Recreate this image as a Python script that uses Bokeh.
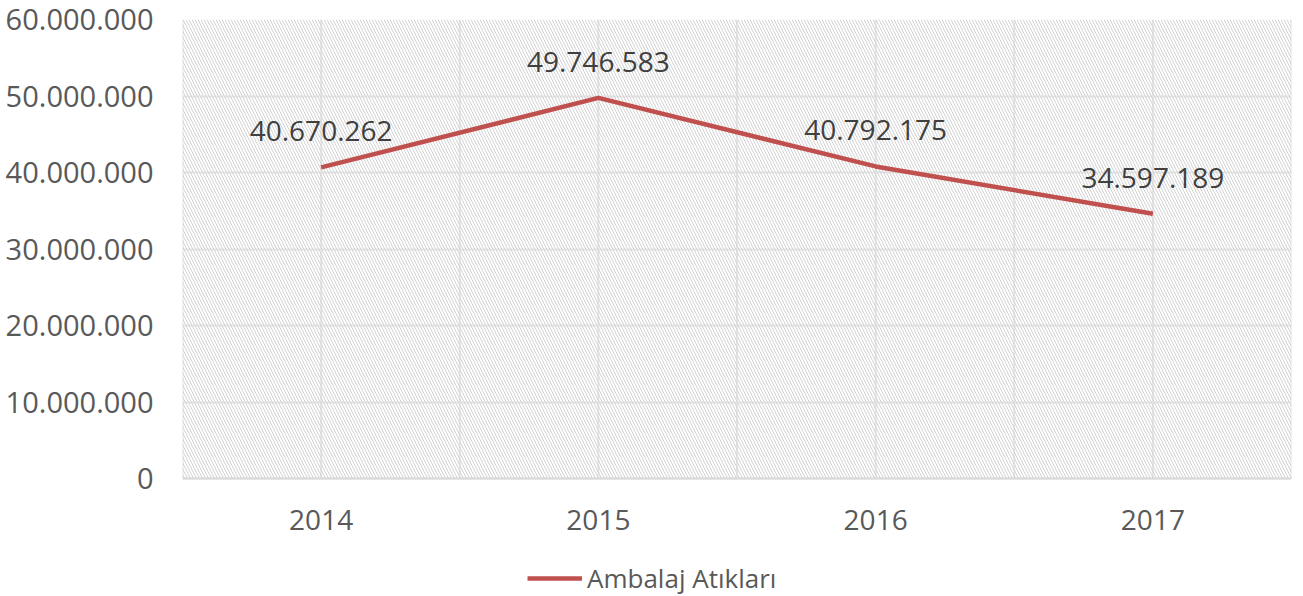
from bokeh.plotting import figure
from bokeh.models import (ColumnDataSource, FixedTicker, BoxAnnotation, Legend, LegendItem,
                          CustomJSTickFormatter, Range1d, Span)
from bokeh.core.properties import value
from bokeh.embed import file_html
from bokeh.resources import INLINE

years = ["2014", "2015", "2016", "2017"]
values = [40670262, 49746583, 40792175, 34597189]
series_name = "Ambalaj Atıkları"
y_ticks = [0, 10000000, 20000000, 30000000, 40000000, 50000000, 60000000]

def fmt(v):
    return f"{v:,}".replace(",", ".")

n = len(years)
xpos = [i + 0.5 for i in range(n)]
src = ColumnDataSource(dict(x=xpos, y=values, lbl=[fmt(v) for v in values]))
cat_src = ColumnDataSource(dict(x=xpos, y=[0] * n, year=years))
grid_x = [i * 0.5 for i in range(0, 2 * n + 1)]
grid_src = ColumnDataSource(dict(x=grid_x, y0=[0] * len(grid_x), y1=[y_ticks[-1]] * len(grid_x)))

FONT = "Open Sans"
W, H = 1303, 596
TOP, ZERO_PX, LEFT, RIGHT = 19, 478, 182, 1291

# the frame reaches the bottom of the canvas so the year labels and legend can live in it
ymax = y_ticks[-1]
span = ymax * (H - TOP) / (ZERO_PX - TOP)
ymin = ymax - span

p = figure(width=W, height=H, output_backend="svg", toolbar_location=None,
           x_range=Range1d(0, n), y_range=Range1d(ymin, ymax),
           min_border_left=LEFT, min_border_top=TOP, min_border_right=W - RIGHT,
           min_border_bottom=0)

p.outline_line_color = None
p.background_fill_color = "white"
p.border_fill_color = "white"

hatch = BoxAnnotation(bottom=0, fill_alpha=0, line_alpha=0, hatch_pattern="left_diagonal_line",
                      hatch_color="#d2d2d2", hatch_scale=6, hatch_weight=1, level="underlay")
p.add_layout(hatch)

p.xgrid.visible = False
p.segment(x0="x", y0="y0", x1="x", y1="y1", source=grid_src, line_color="#e6e6e6",
          line_width=2, level="underlay")
p.ygrid.ticker = FixedTicker(ticks=y_ticks)
p.ygrid.grid_line_color = "#e6e6e6"
p.ygrid.grid_line_width = 2

p.yaxis.ticker = FixedTicker(ticks=y_ticks)
p.yaxis.formatter = CustomJSTickFormatter(code="""
    return Math.round(tick).toString().replace(/\\B(?=(\\d{3})+(?!\\d))/g, '.');
""")
p.yaxis.axis_line_color = None
p.yaxis.major_tick_line_color = None
p.yaxis.minor_tick_line_color = None
p.yaxis.major_label_text_font = FONT
p.yaxis.major_label_text_font_size = "29px"
p.yaxis.major_label_text_color = "#595959"
p.yaxis.major_label_standoff = 23

p.xaxis.visible = False
p.add_layout(Span(location=0, dimension="width", line_color="#d9d9d9", line_width=2))

p.text("x", "y", text="year", source=cat_src, text_font=value(FONT), text_font_size="28px",
       text_color="#595959", text_align="center", text_baseline="middle", y_offset=41)

line = p.line("x", "y", source=src, line_color="#C0504D", line_width=4.5)

p.text("x", "y", text="lbl", source=src, text_font=value(FONT), text_font_size="28px",
       text_color="#404040", text_align="center", text_baseline="middle", y_offset=-36)

legend = Legend(items=[LegendItem(label=series_name, renderers=[line])],
                location=(345, 0), orientation="horizontal",
                label_text_font=FONT, label_text_font_size="26px", label_text_color="#595959",
                glyph_width=55, glyph_height=30, label_standoff=5,
                padding=0, margin=0, border_line_alpha=0, background_fill_alpha=0)
p.add_layout(legend, "center")

open("out.html", "w").write(file_html(p, INLINE))
